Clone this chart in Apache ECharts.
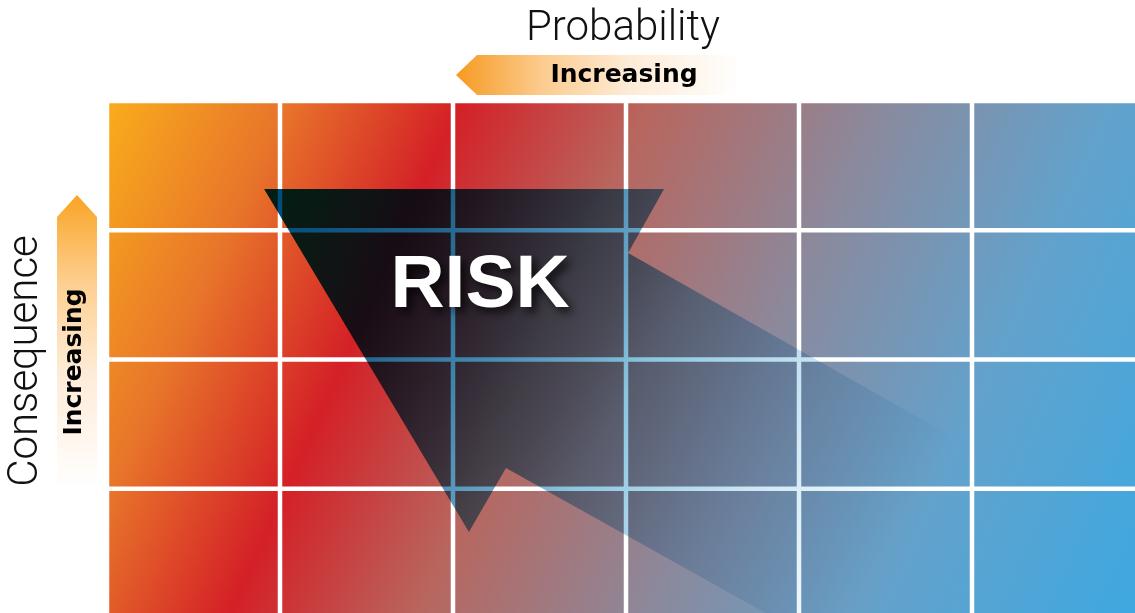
<!DOCTYPE html>
<html>
<head>
<meta charset="utf-8">
<script src="https://cdn.jsdelivr.net/npm/echarts@6/dist/echarts.min.js"></script>
<style>
html,body{margin:0;padding:0;background:#fff;overflow:hidden;width:1135px;height:613px;}
#chart{width:1145px;height:618px;}
</style>
</head>
<body>
<div id="chart"></div>
<script>
// Risk matrix levels (6 probability columns x 4 consequence rows)
const probabilityLevels = [1, 2, 3, 4, 5, 6];
const consequenceLevels = [1, 2, 3, 4];
const axisTitles = { x: 'Probability', y: 'Consequence', trend: 'Increasing', overlay: 'RISK' };
// Risk arrow outline, in matrix (probability, consequence) units
const arrowProb = [0.908, 3.220, 3.012, 4.971, 4.260, 2.306, 2.092];
const arrowCons = [3.319, 3.319, 2.824, 1.338, -0.302, 1.161, 0.665];

const chart = echarts.init(document.getElementById('chart'), null, { renderer: 'canvas' });
const LG = echarts.graphic.LinearGradient;

const bgGradient = new LG(108, 103, 1152, 574, [
  { offset: 0, color: '#F9AC1C' },
  { offset: 0.14, color: '#E8762A' },
  { offset: 0.28, color: '#D42027' },
  { offset: 0.43, color: '#B8665E' },
  { offset: 0.62, color: '#8A8A9E' },
  { offset: 0.80, color: '#62A2CC' },
  { offset: 1, color: '#3EA8E0' }
], true);

const arrowGradient = new LG(264, 189, 880, 560, [
  { offset: 0, color: '#00487A' },
  { offset: 0.22, color: '#1F6186' },
  { offset: 0.40, color: '#4A8DB5' },
  { offset: 0.50, color: '#6BA8C9' },
  { offset: 0.58, color: '#8AC6E0' },
  { offset: 0.80, color: '#CFE7F3' },
  { offset: 0.94, color: '#EEF7FB' },
  { offset: 1, color: '#FFFFFF' }
], true);

const cells = [];
probabilityLevels.forEach((p, i) => {
  consequenceLevels.forEach((c, j) => { cells.push([i, j, p * c]); });
});

const gap = 2.25;

const option = {
  animation: false,
  backgroundColor: '#ffffff',
  grid: { left: 107, top: 101, right: 0, bottom: 0, containLabel: false },
  xAxis: { type: 'value', min: 0, max: probabilityLevels.length, interval: 1, show: false },
  yAxis: { type: 'value', min: 0, max: consequenceLevels.length, interval: 1, show: false },
  series: [
    {
      type: 'custom',
      z: 1,
      data: cells,
      renderItem: function (params, api) {
        const x = api.value(0), y = api.value(1);
        const tl = api.coord([x, y + 1]);
        const br = api.coord([x + 1, y]);
        return {
          type: 'rect',
          shape: { x: tl[0] + gap, y: tl[1] + gap, width: br[0] - tl[0] - 2 * gap, height: br[1] - tl[1] - 2 * gap },
          style: { fill: bgGradient }
        };
      }
    },
    {
      type: 'custom',
      z: 2,
      blendMode: 'multiply',
      data: [[0]],
      renderItem: function (params, api) {
        const pts = arrowProb.map((px, k) => api.coord([px, arrowCons[k]]));
        return {
          type: 'polygon',
          shape: { points: pts },
          style: { fill: arrowGradient }
        };
      }
    }
  ],
  graphic: [
    {
      type: 'polygon', z: 10,
      shape: { points: [[456, 75], [477, 55], [742, 55], [742, 95], [477, 95]] },
      style: { fill: new LG(456, 0, 742, 0, [
        { offset: 0, color: '#F69A22' },
        { offset: 0.3, color: '#FCCB8E' },
        { offset: 0.6, color: '#FEEBD6' },
        { offset: 1, color: '#FFFFFF' }], true) }
    },
    {
      type: 'polygon', z: 10,
      shape: { points: [[77, 195], [97, 217], [97, 488], [57, 488], [57, 217]] },
      style: { fill: new LG(0, 195, 0, 488, [
        { offset: 0, color: '#F9A425' },
        { offset: 0.3, color: '#FDCF90' },
        { offset: 0.6, color: '#FEEBD6' },
        { offset: 1, color: '#FFFFFF' }], true) }
    },
    {
      type: 'text', z: 11, x: 623, y: 29,
      style: { text: axisTitles.x, fontFamily: 'Roboto', fontWeight: 300, fontSize: 42,
        fill: '#111', align: 'center', verticalAlign: 'middle' }
    },
    {
      type: 'text', z: 11, x: 624, y: 75,
      style: { text: axisTitles.trend, fontFamily: 'DejaVu Sans', fontWeight: 'bold', fontSize: 25,
        fill: '#000', align: 'center', verticalAlign: 'middle' }
    },
    {
      type: 'text', z: 11, x: 26, y: 361, rotation: Math.PI / 2,
      style: { text: axisTitles.y, fontFamily: 'Roboto', fontWeight: 300, fontSize: 42,
        fill: '#111', align: 'center', verticalAlign: 'middle' }
    },
    {
      type: 'text', z: 11, x: 74, y: 362, rotation: Math.PI / 2,
      style: { text: axisTitles.trend, fontFamily: 'DejaVu Sans', fontWeight: 'bold', fontSize: 25,
        fill: '#000', align: 'center', verticalAlign: 'middle' }
    },
    {
      type: 'text', z: 12, x: 480, y: 286,
      style: { text: axisTitles.overlay, fontFamily: 'Liberation Sans', fontWeight: 'bold', fontSize: 75,
        fill: '#ffffff', align: 'center', verticalAlign: 'middle',
        textShadowColor: 'rgba(0,0,0,0.75)', textShadowBlur: 10, textShadowOffsetX: 5, textShadowOffsetY: 5 }
    }
  ]
};
chart.setOption(option);
</script>
</body>
</html>
